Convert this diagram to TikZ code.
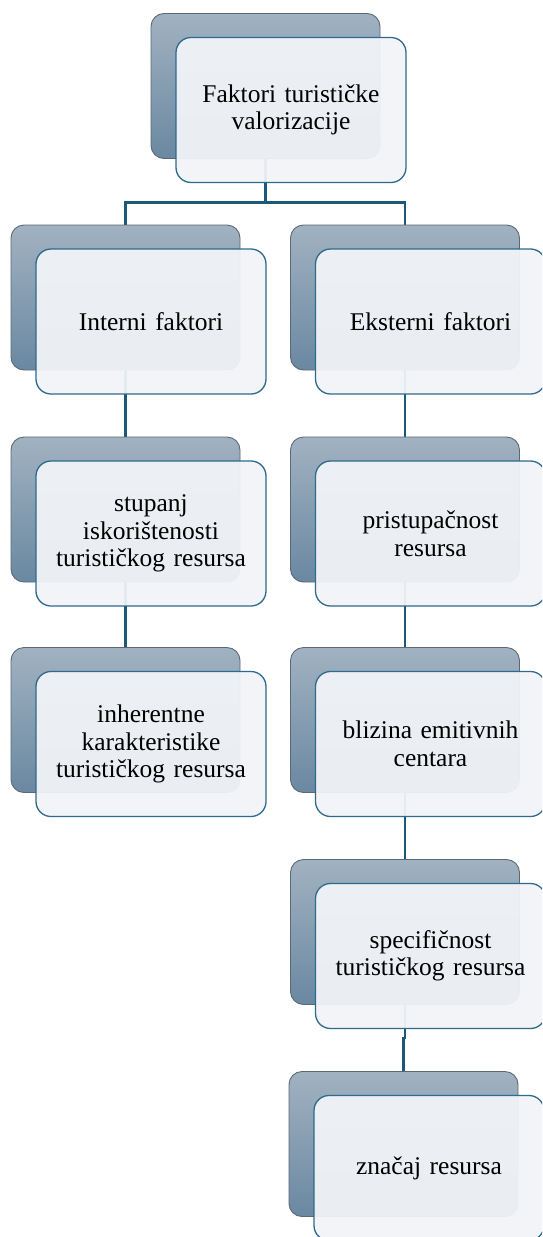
\documentclass[tikz,border=0pt]{standalone}
\usepackage{fontspec}
\setmainfont{Liberation Serif}
\newfontfamily\tnr{Liberation Serif}
\usetikzlibrary{calc}
\pgfdeclarelayer{bg}
\pgfsetlayers{bg,main}
\definecolor{backtop}{RGB}{161,178,193}
\definecolor{backbot}{RGB}{106,136,161}
\definecolor{backedge}{RGB}{92,104,116}
\definecolor{frontfill}{RGB}{242,244,247}
\definecolor{frontedge}{RGB}{46,106,140}
\definecolor{linkcol}{RGB}{28,88,120}
\tikzset{
  backbox/.style={rectangle, rounded corners=13pt, minimum width=229pt, minimum height=145pt,
    top color=backtop, bottom color=backbot, draw=backedge, line width=0.9pt, inner sep=0pt},
  frontbox/.style={rectangle, rounded corners=15pt, minimum width=230pt, minimum height=145pt,
    fill=frontfill, fill opacity=0.94, text opacity=1, draw=frontedge, line width=1.3pt,
    align=center, text width=215pt, inner sep=0pt,
    font=\tnr\fontsize{25.5}{27.5}\selectfont},
  link/.style={draw=linkcol, line width=2.8pt}
}
\newcommand\pairbox[4]{%
  \node[backbox] (#1b) at (#2,#3) {};
  \node[frontbox] (#1f) at (#2+25.5,#3+24) {#4};
}
\begin{document}
\begin{tikzpicture}[x=1pt,y=-1pt]
\useasboundingbox (0,0) rectangle (542,1237);
\clip (0,0) rectangle (542,1237);
\pairbox{t}{265.5}{86}{Faktori turističke\\valorizacije}
\pairbox{l1}{125.5}{297.5}{Interni faktori}
\pairbox{l2}{125.5}{509.5}{stupanj\\iskorištenosti\\turističkog resursa}
\pairbox{l3}{125.5}{720}{inherentne\\karakteristike\\turističkog resursa}
\pairbox{r1}{405}{297.5}{Eksterni faktori}
\pairbox{r2}{405}{509.5}{pristupačnost\\resursa}
\pairbox{r3}{405}{720}{blizina emitivnih\\centara}
\pairbox{r4}{405}{932}{specifičnost\\turističkog resursa}
\pairbox{r5}{403.5}{1144}{značaj resursa}
\begin{pgfonlayer}{bg}
  \fill[white] (0,0) rectangle (542,1237);
  \coordinate (junc) at (265.5,202.5);
  \draw[link] (tb.south) -- (junc);
  \draw[link] (l1b.north) |- (junc) -| (r1b.north);
  \draw[link] (l1b.south) -- (l2b.north);
  \draw[link] (l2b.south) -- (l3b.north);
  \draw[link] (r1b.south) -- (r2b.north);
  \draw[link] (r2b.south) -- (r3b.north);
  \draw[link] (r3b.south) -- (r4b.north);
  \draw[link] (r4b.south) |- ($(r4b.south)!0.5!(r5b.north)$) -| (r5b.north);
\end{pgfonlayer}
\end{tikzpicture}
\end{document}
